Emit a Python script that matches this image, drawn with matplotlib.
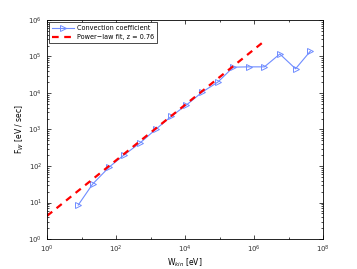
import numpy as np
import matplotlib.pyplot as plt
from matplotlib.ticker import LogLocator, NullFormatter

# ======================= data ======================= #
w_kin = np.array([8.0, 21.0, 63.0, 170.0, 500.0, 1.4e3, 4.0e3, 1.1e4,
                  3.2e4, 9.0e4, 2.5e5, 7.0e5, 2.0e6, 5.6e6, 1.6e7, 4.3e7])
f_w = np.array([8.5, 32.0, 93.0, 200.0, 430.0, 1.0e3, 2.3e3, 4.7e3,
                1.07e4, 2.0e4, 5.1e4, 5.2e4, 5.2e4, 1.17e5, 4.6e4, 1.4e5])

fit_z = 0.76
fit_a = 4.3
fit_w = np.array([1.0, 1.7e6])

# ============================== figure ==================================== #
fig = plt.figure(figsize=(3.57, 2.69), dpi=100)
ax = fig.add_axes([0.1317, 0.1115, 0.7731, 0.8142])

ax.plot(w_kin, f_w, "-", color="#6f8cff", lw=0.8, marker=">", ms=5,
        mfc="none", mec="#6f8cff", mew=0.7, label="Convection coefficient")
ax.plot(fit_w, fit_a * fit_w ** fit_z, "--", color="red", lw=1.6,
        dashes=(3, 2.5), label="Power\u2212law fit, z = 0.76")

ax.set_xscale("log")
ax.set_yscale("log")
ax.set_xlim(1, 1e8)
ax.set_ylim(1, 1e6)
ax.set_xticks([1, 1e2, 1e4, 1e6, 1e8])
ax.set_yticks([1, 1e1, 1e2, 1e3, 1e4, 1e5, 1e6])
ax.yaxis.set_minor_locator(LogLocator(base=10, subs=np.arange(2, 10), numticks=20))
ax.yaxis.set_minor_formatter(NullFormatter())
ax.xaxis.set_minor_locator(LogLocator(base=10, subs=[1.0], numticks=20))
ax.xaxis.set_minor_formatter(NullFormatter())

ax.tick_params(which="both", direction="in", top=True, right=True,
               labelsize=5, width=0.5, labelcolor="#333333")
ax.tick_params(which="major", length=3)
ax.tick_params(which="minor", length=1.5)
for s in ax.spines.values():
    s.set_linewidth(0.6)

ax.set_xlabel("W$_{kin}$ [eV]", fontsize=5.5, labelpad=1)
ax.set_ylabel("F$_W$ [eV / sec]", fontsize=5.5, labelpad=2)

leg = ax.legend(loc="upper left", fontsize=4.7, handlelength=3.4,
                numpoints=1, handletextpad=0.4,
                borderaxespad=0.3, borderpad=0.45, labelspacing=0.45,
                fancybox=False, framealpha=1, edgecolor="black")
leg.get_frame().set_linewidth(0.5)

fig.savefig("out.png", dpi=100)
